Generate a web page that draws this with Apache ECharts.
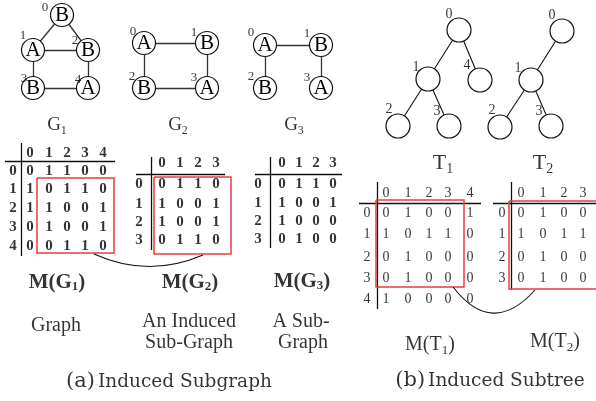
<!DOCTYPE html>
<html><head><meta charset="utf-8">
<script src="https://cdn.jsdelivr.net/npm/echarts@6/dist/echarts.min.js"></script>
<style>html,body{margin:0;padding:0;background:#fff}#c{width:596px;height:401px}</style>
</head><body><div id="c"></div>
<script>
// ================= DATA =================
const g1Labels = ['B','A','B','B','A'];
const g1Edges = [[0,1],[0,2],[1,2],[1,3],[2,4],[3,4]];
const g2Labels = ['A','B','B','A'];
const g2Edges = [[0,1],[0,2],[1,3],[2,3]];
const g3Labels = ['A','B','B','A'];
const g3Edges = [[0,1],[0,2],[1,3]];
const t1Labels = ['','','','',''];
const t1Edges = [[0,1],[0,4],[1,2],[1,3]];
const t2Labels = ['','','',''];
const t2Edges = [[0,1],[1,2],[1,3]];
const idx5 = ['0','1','2','3','4'];
const idx4 = ['0','1','2','3'];
const mG1 = [[0,1,1,0,0],[1,0,1,1,0],[1,1,0,0,1],[0,1,0,0,1],[0,0,1,1,0]];
const mG2 = [[0,1,1,0],[1,0,0,1],[1,0,0,1],[0,1,1,0]];
const mG3 = [[0,1,1,0],[1,0,0,1],[1,0,0,0],[0,1,0,0]];
const mT1 = [[0,1,0,0,1],[1,0,1,1,0],[0,1,0,0,0],[0,1,0,0,0],[1,0,0,0,0]];
const mT2 = [[0,1,0,0],[1,0,1,1],[0,1,0,0],[0,1,0,0]];
const graphNames = [['G','1'],['G','2'],['G','3']];
const treeNames = [['T','1'],['T','2']];
const matGNames = [['M(G','1',')'],['M(G','2',')'],['M(G','3',')']];
const matTNames = [['M(T','1',')'],['M(T','2',')']];
const descLines = [['Graph'],['An Induced','Sub-Graph'],['A Sub-','Graph']];
const subCaptions = [['(a)','Induced Subgraph'],['(b)','Induced Subtree']];

// ================= LAYOUT =================
const L = {
  g1: {pos:[[62,15],[33,50],[88,50],[33,88],[88,88]], idx:[[45,8],[23,36],[75,41],[24,79],[78,80]]},
  g2: {pos:[[144,43],[207,43],[144,88],[207,88]], idx:[[133,32],[194,33],[132,77],[194,78]]},
  g3: {pos:[[265,45],[321,45],[265,88],[321,88]], idx:[[251,33],[307,34],[251,77],[307,78]]},
  t1: {pos:[[459,30],[428,79],[398,126],[449,126],[480,80]], idx:[[449,14],[416,67],[389,109],[437,111],[467,65]]},
  t2: {pos:[[562,31],[531,80],[500,127],[551,126]], idx:[[552,15],[518,68],[492,110],[539,111]]},
  gNamePos: [[57,125],[178,125],[294,125]],
  tNamePos: [[443,163],[543,163]],
  mG1: {colX:[30,49,67,85,103], rowY:[171,189,208,227,246], headY:153, rowX:13, h:[[5,161],[115,161]], v:[[21,143],[21,256]], rect:[37,178,114,253]},
  mG2: {colX:[162,180,198,216], rowY:[184,204,222,240], headY:163, rowX:139, h:[[136,174],[225,174]], v:[[151,157],[151,250]], rect:[154,177,231,254]},
  mG3: {colX:[282,299,316,333], rowY:[184,203,221,239], headY:163, rowX:258, h:[[255,174],[342,174]], v:[[270,157],[270,248]]},
  mT1: {colX:[386,408,429,448,470], rowY:[213,234,257,278,299], headY:193, rowX:367, h:[[359,203],[481,203]], v:[[377,182],[377,309]], rect:[376,200,464,287]},
  mT2: {colX:[521,543,564,583], rowY:[213,234,257,278], headY:193, rowX:502, h:[[493,203],[600,203]], v:[[511,182],[511,290]], rect:[509,201,603,289]},
  curveG: [[94,254],[203,255]],
  curveT: [[453,287],[535,290]],
  mGNamePos: [[57,283],[190,283],[302,282]],
  mTNamePos: [[430,345],[555,342]],
  descPos: [[[56,326]],[[189,322],[189,343]],[[301,322],[303,343]]],
  capPos: [[169,382],[490,381]]
};

const SERIF = 'Liberation Serif';
const texts = [];
function addText(x, y, fmt, style) {
  texts.push({value:[x,y], label:Object.assign({show:true, position:'inside', formatter:fmt,
    fontFamily:SERIF, color:'#000'}, style)});
}
function subRich(size, subSize, bold, pad) {
  return {
    m:{fontSize:size, lineHeight:size, verticalAlign:'top', fontWeight:bold?'bold':'normal', fontFamily:SERIF, color:'#000'},
    s:{fontSize:subSize, lineHeight:subSize, verticalAlign:'top', padding:[pad,0,0,0], fontWeight:bold?'bold':'normal', fontFamily:SERIF, color:'#000'}
  };
}

// matrices
function addMatrix(vals, hdr, lay, style) {
  hdr.forEach((h,i)=>{ addText(lay.colX[i], lay.headY, h, style); addText(lay.rowX, lay.rowY[i], h, style); });
  vals.forEach((row,r)=>row.forEach((v,c)=>addText(lay.colX[c], lay.rowY[r], String(v), style)));
}
const boldM = {fontSize:15, fontWeight:'bold'};
const regM = {fontSize:14};
addMatrix(mG1, idx5, L.mG1, boldM);
addMatrix(mG2, idx4, L.mG2, boldM);
addMatrix(mG3, idx4, L.mG3, boldM);
addMatrix(mT1, idx5, L.mT1, regM);
addMatrix(mT2, idx4, L.mT2, regM);

// node index labels
[['g1',idx5,13],['g2',idx4,13],['g3',idx4,13],['t1',idx5,14],['t2',idx4,14]].forEach(([k,ids,fs])=>{
  L[k].idx.forEach((p,i)=>addText(p[0],p[1],ids[i],{fontSize:fs}));
});

// names with subscripts
graphNames.forEach((n,i)=>addText(L.gNamePos[i][0],L.gNamePos[i][1],'{m|'+n[0]+'}{s|'+n[1]+'}',{rich:subRich(19,12,false,9)}));
treeNames.forEach((n,i)=>addText(L.tNamePos[i][0],L.tNamePos[i][1],'{m|'+n[0]+'}{s|'+n[1]+'}',{rich:subRich(22,14,false,10)}));
matGNames.forEach((n,i)=>addText(L.mGNamePos[i][0],L.mGNamePos[i][1],'{m|'+n[0]+'}{s|'+n[1]+'}{m|'+n[2]+'}',{rich:subRich(21,13,true,8)}));
matTNames.forEach((n,i)=>addText(L.mTNamePos[i][0],L.mTNamePos[i][1],'{m|'+n[0]+'}{s|'+n[1]+'}{m|'+n[2]+'}',{rich:subRich(20,13,false,9)}));
descLines.forEach((ls,i)=>ls.forEach((t,j)=>addText(L.descPos[i][j][0],L.descPos[i][j][1],t,{fontSize:20})));
subCaptions.forEach((c,i)=>addText(L.capPos[i][0],L.capPos[i][1],'{p|'+c[0]+'} {t|'+c[1]+'}',{
  rich:{p:{fontSize:21,fontFamily:'DejaVu Serif',color:'#000'},t:{fontSize:18.5,fontFamily:'DejaVu Serif',color:'#000'}}}));

// graph series
function graphSeries(key, labels, edges, size, letterSize, edgeColor, edgeWidth) {
  const lay = L[key];
  return {
    type:'graph', coordinateSystem:'cartesian2d', silent:true, z:3,
    symbol:'circle', symbolSize:size,
    data: labels.map((t,i)=>({name:key+i, value:lay.pos[i], label:{formatter:t}})),
    links: edges.map(e=>({source:key+e[0], target:key+e[1]})),
    itemStyle:{color:'#fff', borderColor:'#111', borderWidth:1.2},
    label:{show:true, position:'inside', fontFamily:SERIF, fontSize:letterSize, color:'#000'},
    lineStyle:{color:edgeColor, width:edgeWidth, opacity:1, curveness:0},
    emphasis:{disabled:true}
  };
}

// straight rules and rectangles
const rules = [];
['mG1','mG2','mG3','mT1','mT2'].forEach(k=>{ rules.push({coords:L[k].h}); rules.push({coords:L[k].v}); });
const rects = [];
['mG1','mG2','mT1','mT2'].forEach(k=>{
  const r = L[k].rect;
  rects.push({coords:[[r[0],r[1]],[r[2],r[1]],[r[2],r[3]],[r[0],r[3]],[r[0],r[1]]]});
});

const option = {
  animation:false,
  backgroundColor:'#fff',
  grid:{left:0,right:0,top:0,bottom:0},
  xAxis:{type:'value',min:0,max:596,show:false},
  yAxis:{type:'value',min:0,max:401,inverse:true,show:false},
  series:[
    {type:'lines', coordinateSystem:'cartesian2d', silent:true, z:1, data:rules,
     lineStyle:{color:'#111', width:1.3, opacity:1}},
    {type:'lines', coordinateSystem:'cartesian2d', silent:true, z:2, polyline:true, data:rects,
     lineStyle:{color:'#ec3b3b', width:1.5, opacity:1}},
    {type:'lines', coordinateSystem:'cartesian2d', silent:true, z:2,
     data:[{coords:L.curveG, lineStyle:{curveness:-0.22}},{coords:L.curveT, lineStyle:{curveness:-0.6}}],
     lineStyle:{color:'#111', width:1.1, opacity:1}},
    graphSeries('g1', g1Labels, g1Edges, 23, 21, '#333', 1.3),
    graphSeries('g2', g2Labels, g2Edges, 23, 21, '#333', 1.3),
    graphSeries('g3', g3Labels, g3Edges, 23, 21, '#333', 1.3),
    graphSeries('t1', t1Labels, t1Edges, 24, 12, '#111', 1.1),
    graphSeries('t2', t2Labels, t2Edges, 24, 12, '#111', 1.1),
    {type:'scatter', silent:true, z:5, symbol:'circle', symbolSize:1, itemStyle:{color:'rgba(0,0,0,0)'},
     data:texts, emphasis:{disabled:true}}
  ]
};
echarts.init(document.getElementById('c')).setOption(option);
</script></body></html>
